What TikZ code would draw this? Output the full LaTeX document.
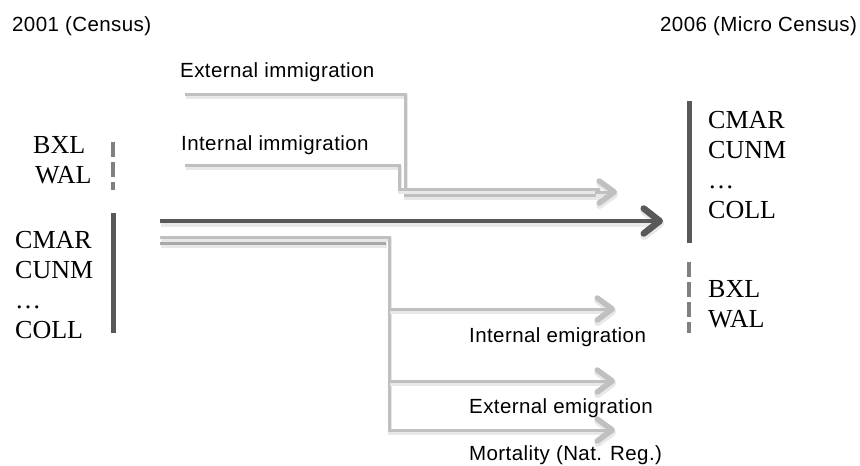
\documentclass[tikz,border=0pt]{standalone}
\usepackage{fontspec}
\setmainfont{Liberation Serif}
\setsansfont[LetterSpace=2]{Liberation Sans}
\usetikzlibrary{arrows.meta}
\definecolor{darkbar}{HTML}{595959}
\definecolor{midbar}{HTML}{808080}
\definecolor{lightline}{HTML}{C0C0C0}
\definecolor{lightdark}{HTML}{A8A8A8}
\tikzset{
  sanslabel/.style={font=\sffamily\fontsize{20.5}{24}\selectfont, inner sep=0pt, anchor=base west, text=black},
  codelabel/.style={font=\rmfamily\fontsize{26}{30}\selectfont, inner sep=0pt, anchor=base west, text=black},
  solidbar/.style={draw=darkbar, line width=5pt},
  dashbar/.style={draw=midbar, line width=4.5pt, dash pattern=on 15pt off 5pt},
  sh/.style={preaction={draw=black!9, line width=#1, transform canvas={shift={(1.2pt,-2.5pt)}}}},
  mainarrow/.style={draw=darkbar, line width=4.5pt, sh=6pt, -{Straight Barb[length=16pt,width=25pt,round,line width=2pt 1]}},
  flow/.style={draw=lightline, line width=3pt, sh=4.5pt},
  flowarrow/.style={flow, -{Straight Barb[length=15pt,width=22pt,round,line width=2.5pt 1]}},
}
\begin{document}
\begin{tikzpicture}[x=1pt,y=-1pt]
\useasboundingbox (0,0) rectangle (860,466);
% titles
\node[sanslabel] (t2001) at (12,31) {2001 (Census)};
\node[sanslabel] (t2006) at (660,31) {2006 (Micro Census)};
% flow labels
\node[sanslabel] (extimm) at (180,77) {External immigration};
\node[sanslabel] (intimm) at (181,150) {Internal immigration};
\node[sanslabel] (intemi) at (469,342) {Internal emigration};
\node[sanslabel] (extemi) at (469,413) {External emigration};
\node[sanslabel] (mort) at (469,460) {Mortality (Nat. Reg.)};
% left codes
\node[codelabel] (lbxl) at (33,153) {BXL};
\node[codelabel] (lwal) at (35,183) {WAL};
\node[codelabel] (lcmar) at (15,248) {CMAR};
\node[codelabel] (lcunm) at (15,278) {CUNM};
\node[codelabel] (ldots) at (15,308) {…};
\node[codelabel] (lcoll) at (15,338) {COLL};
% right codes
\node[codelabel] (rcmar) at (708,128) {CMAR};
\node[codelabel] (rcunm) at (708,158) {CUNM};
\node[codelabel] (rdots) at (708,188) {…};
\node[codelabel] (rcoll) at (708,218) {COLL};
\node[codelabel] (rbxl) at (708,297) {BXL};
\node[codelabel] (rwal) at (708,327) {WAL};
% bars
\draw[dashbar] (113,142) -- (113,190);
\draw[solidbar] (113,213) -- (113,333);
\draw[solidbar] (689,101) -- (689,243);
\draw[dashbar] (689,262) -- (689,333);
% coordinates
\coordinate (extstart) at (185,94);
\coordinate (intstart) at (185,165);
\coordinate (extend) at (600,195);
\coordinate (intend) at (600,189);
\coordinate (immjoin) at (595,192);
\coordinate (immtip) at (617,192);
\coordinate (mainstart) at (160,221);
\coordinate (maintip) at (663,221);
\coordinate (emistart) at (160,237);
\coordinate (emistartb) at (160,243);
\coordinate (emicorner) at (389,237);
\coordinate (emib1) at (389,309);
\coordinate (emib2) at (389,381);
\coordinate (emib3) at (389,430);
\coordinate (emit1) at (615,309);
\coordinate (emit2) at (615,381);
\coordinate (emit3) at (615,430);
% immigration flows
\draw[flow] (extstart) -- (405,94) -- (405,195) -- (extend);
\draw[flow] (intstart) -- (399,165) -- (399,189) -- (intend);
\draw[flowarrow] (immjoin) -- (immtip);
% main flow
\draw[mainarrow] (mainstart) -- (maintip);
% emigration flows
\draw[flow, draw=lightdark] (emistartb) -- (386,243);
\draw[flowarrow] (emistart) -- (emicorner) -- (emib3) -- (emit3);
\draw[flowarrow] (emib1) -- (emit1);
\draw[flowarrow] (emib2) -- (emit2);
\end{tikzpicture}
\end{document}
